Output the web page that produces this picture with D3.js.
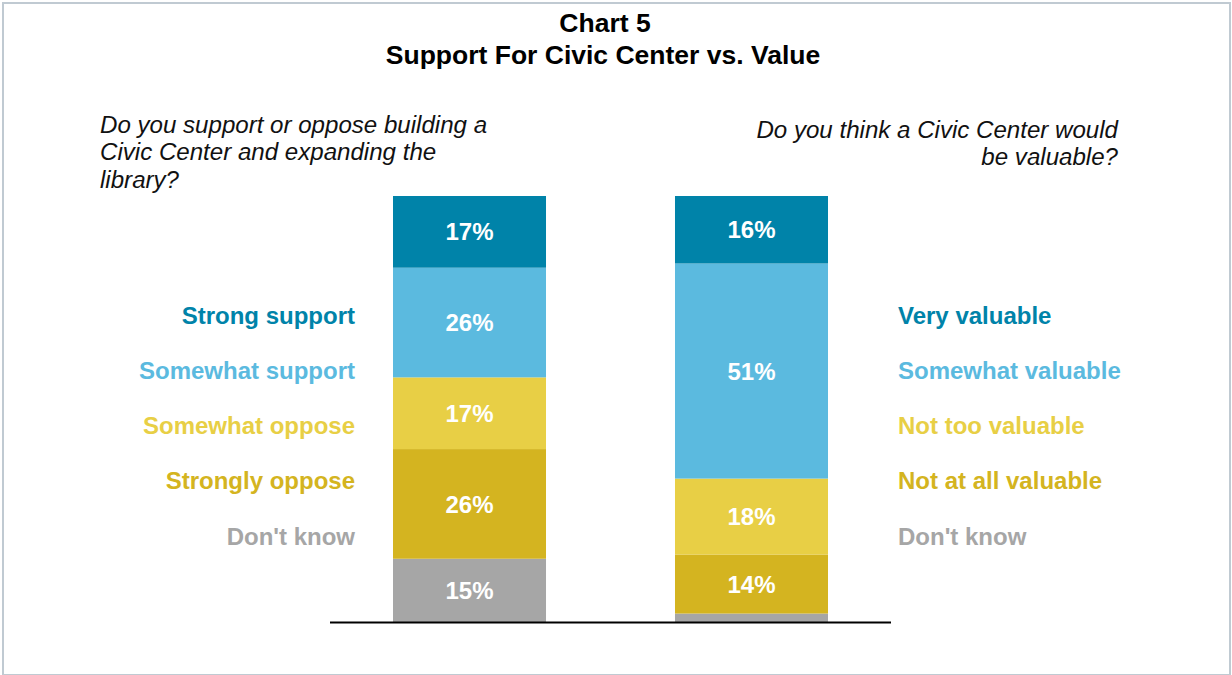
<!DOCTYPE html>
<html>
<head>
<meta charset="utf-8">
<script src="https://cdn.jsdelivr.net/npm/d3@7"></script>
<style>
  html, body { margin: 0; padding: 0; background: #fff; }
  svg { display: block; font-family: "Liberation Sans", Arial, sans-serif; }
</style>
</head>
<body>
<svg id="chart" width="1232" height="675"></svg>
<script>
// Response categories, listed from the bottom of each stack to the top
const supportCategories = ["Don't know", "Strongly oppose", "Somewhat oppose", "Somewhat support", "Strong support"];
const supportValues = [15, 26, 17, 26, 17];

const valueCategories = ["Don't know", "Not at all valuable", "Not too valuable", "Somewhat valuable", "Very valuable"];
const valueValues = [2, 14, 18, 51, 16];

const segmentColors = ["#a6a6a6", "#d4b420", "#e8cf45", "#5bbadf", "#0083a9"];
const labelThreshold = 5; // segments smaller than this are left unlabeled

const bars = [
  { key: "support", categories: supportCategories, values: supportValues },
  { key: "value", categories: valueCategories, values: valueValues }
];

const svg = d3.select("#chart");
const W = 1232, H = 675;

// Outer frame
svg.append("rect")
  .attr("x", 3).attr("y", 3).attr("width", W - 5).attr("height", H - 3)
  .attr("fill", "#fff").attr("stroke", "#c0cad2").attr("stroke-width", 2);

// Title
const title = svg.append("text")
  .attr("text-anchor", "middle").attr("font-weight", "bold")
  .attr("font-size", 26.5).attr("fill", "#000");
title.append("tspan").attr("x", 605).attr("y", 31.5).text("Chart 5");
title.append("tspan").attr("x", 603).attr("y", 63.5).text("Support For Civic Center vs. Value");

// Question texts
const qFont = 24.1;
const qLeft = svg.append("text").attr("font-style", "italic").attr("font-size", qFont).attr("fill", "#111");
["Do you support or oppose building a", "Civic Center and expanding the", "library?"]
  .forEach((t, i) => qLeft.append("tspan").attr("x", 100).attr("y", 132.5 + i * 27.5).text(t));

const qRight = svg.append("text").attr("font-style", "italic").attr("font-size", qFont)
  .attr("fill", "#111").attr("text-anchor", "end");
["Do you think a Civic Center would", "be valuable?"]
  .forEach((t, i) => qRight.append("tspan").attr("x", 1118).attr("y", 137.5 + i * 27.5).text(t));

// Scales
const x = d3.scaleBand().domain(bars.map(b => b.key)).range([252, 969]).paddingInner(0.4574).paddingOuter(0.5);
const y = d3.scaleLinear().domain([0, 101]).range([622, 196]);

// Stacked bars
bars.forEach(bar => {
  const g = svg.append("g");
  let acc = 0;
  const segs = bar.values.map((v, i) => {
    const s = { v, y0: acc, y1: acc + v, color: segmentColors[i] };
    acc += v;
    return s;
  });
  g.selectAll("rect").data(segs).join("rect")
    .attr("x", x(bar.key))
    .attr("width", x.bandwidth())
    .attr("y", d => y(d.y1))
    .attr("height", d => y(d.y0) - y(d.y1))
    .attr("fill", d => d.color);
  g.selectAll("text").data(segs.filter(d => d.v >= labelThreshold)).join("text")
    .attr("x", x(bar.key) + x.bandwidth() / 2)
    .attr("y", d => (y(d.y0) + y(d.y1)) / 2)
    .attr("dy", "0.36em")
    .attr("text-anchor", "middle")
    .attr("font-weight", "bold").attr("font-size", 24).attr("fill", "#fff")
    .text(d => d.v + "%");
});

// Baseline
svg.append("line")
  .attr("x1", 330).attr("x2", 891).attr("y1", y(0) + 0.5).attr("y2", y(0) + 0.5)
  .attr("stroke", "#000").attr("stroke-width", 2);

// Category legends beside each bar (top category first)
const legendY = d3.scalePoint().domain(d3.range(5)).range([315, 536]);

svg.append("g").selectAll("text")
  .data(supportCategories.map((c, i) => ({ c, color: segmentColors[i], row: 4 - i })))
  .join("text")
  .attr("x", 355).attr("y", d => legendY(d.row)).attr("dy", "0.36em")
  .attr("text-anchor", "end").attr("font-weight", "bold").attr("font-size", 24)
  .attr("fill", d => d.color).text(d => d.c);

svg.append("g").selectAll("text")
  .data(valueCategories.map((c, i) => ({ c, color: segmentColors[i], row: 4 - i })))
  .join("text")
  .attr("x", 898).attr("y", d => legendY(d.row)).attr("dy", "0.36em")
  .attr("text-anchor", "start").attr("font-weight", "bold").attr("font-size", 24)
  .attr("fill", d => d.color).text(d => d.c);
</script>
</body>
</html>
